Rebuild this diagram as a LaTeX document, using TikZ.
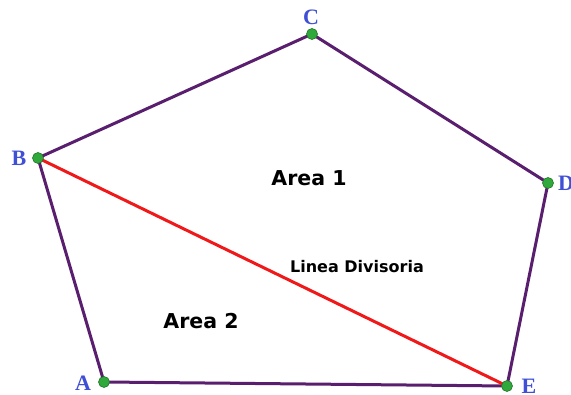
\documentclass[tikz,border=0pt]{standalone}
\usepackage{fontspec}
\newfontfamily\areafont{DejaVu Sans}
\newfontfamily\vfont{Liberation Serif}
\definecolor{edgepurple}{HTML}{5A1E6E}
\definecolor{divred}{HTML}{F01818}
\definecolor{ptgreen}{HTML}{2FA83C}
\definecolor{lblblue}{HTML}{3F4FD6}
\begin{document}
\begin{tikzpicture}[x=1pt,y=-1pt,
  edge/.style={draw=edgepurple,line width=3pt},
  divline/.style={draw=divred,line width=3pt},
  vertex/.style={circle,fill=ptgreen,draw=ptgreen!70!black,line width=0.6pt,minimum size=11pt,inner sep=0pt},
  vlabel/.style={text=lblblue,font=\vfont\bfseries\fontsize{22}{22}\selectfont,inner sep=0pt},
  arealabel/.style={font=\areafont\bfseries\fontsize{20.5}{20}\selectfont,inner sep=0pt},
  divlabel/.style={font=\areafont\bfseries\fontsize{16}{16}\selectfont,inner sep=0pt}]
\path[use as bounding box,fill=white] (0,0) rectangle (571,395);
\coordinate (A) at (104,382);
\coordinate (B) at (38,158);
\coordinate (C) at (312,34);
\coordinate (D) at (548,183);
\coordinate (E) at (507,386);
\draw[edge,line join=round] (A) -- (B) -- (C) -- (D) -- (E) -- cycle;
\draw[divline] (B) -- (E);
\node[vertex] (nA) at (A) {};
\node[vertex] (nB) at (B) {};
\node[vertex] (nC) at (C) {};
\node[vertex] (nD) at (D) {};
\node[vertex] (nE) at (E) {};
\node[vlabel] (lA) at (83,383) {A};
\node[vlabel] (lB) at (19,158) {B};
\node[vlabel] (lC) at (311,17) {C};
\node[vlabel,anchor=west] (lD) at (558,183) {D};
\node[vlabel] (lE) at (529,386) {E};
\node[arealabel] (a1) at (309,178) {Area 1};
\node[arealabel] (a2) at (201,321) {Area 2};
\node[divlabel] (dl) at (357,267) {Linea Divisoria};
\end{tikzpicture}
\end{document}
